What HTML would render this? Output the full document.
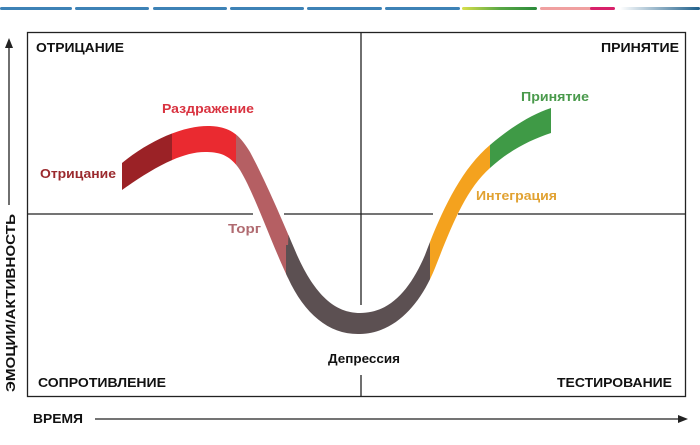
<!DOCTYPE html>
<html><head><meta charset="utf-8"><style>
html,body{margin:0;padding:0;background:#fff;}
svg{display:block;}
text{font-family:"Liberation Sans",sans-serif;font-weight:bold;}
</style></head><body>
<svg width="700" height="445" viewBox="0 0 700 445" xmlns="http://www.w3.org/2000/svg">
<defs>
<linearGradient id="g1" x1="0" x2="1"><stop offset="0" stop-color="#d8e04a"/><stop offset="0.5" stop-color="#5aa845"/><stop offset="1" stop-color="#2a8a3a"/></linearGradient>
<linearGradient id="g3" x1="0" x2="1"><stop offset="0" stop-color="#ffffff"/><stop offset="1" stop-color="#1e5f8a"/></linearGradient>
<path id="band" d="M122,163 C150,140 185,125 210,126 C232,127 240,136 250,152 C265,180 280,215 297,255 C315,295 335,313 360,313 C390,313 410,290 425,255 C440,215 460,170 490,145 C510,128 530,115 551,108 L551,133 C530,140 510,150 490,168 C465,190 450,230 435,268 C420,305 395,333 360,334 C330,335 305,315 288,278 C270,240 255,195 240,170 C230,155 220,152 205,152 C180,152 150,170 122,190 Z"/>
<clipPath id="c1"><rect x="100" y="0" width="72" height="445"/></clipPath>
<clipPath id="c2"><rect x="172" y="0" width="64" height="445"/></clipPath>
<clipPath id="c3"><polygon points="236,0 330,0 288,245 286,700 236,700"/></clipPath>
<clipPath id="c4"><polygon points="286,245 288,245 300,0 430,0 430,700 286,700"/></clipPath>
<clipPath id="c5"><rect x="430" y="0" width="60" height="445"/></clipPath>
<clipPath id="c6"><rect x="490" y="0" width="80" height="445"/></clipPath>
</defs>
<!-- top stripes -->
<g fill="#3d82b6">
<rect x="0" y="7" width="72" height="3" rx="1.5"/>
<rect x="75" y="7" width="74" height="3" rx="1.5"/>
<rect x="153" y="7" width="74" height="3" rx="1.5"/>
<rect x="230" y="7" width="74" height="3" rx="1.5"/>
<rect x="307" y="7" width="75" height="3" rx="1.5"/>
<rect x="385" y="7" width="75" height="3" rx="1.5"/>
</g>
<rect x="462" y="7" width="75" height="3" rx="1.5" fill="url(#g1)"/>
<rect x="540" y="7" width="52" height="3" rx="1.5" fill="#f0a0a0"/>
<rect x="590" y="7" width="25" height="3" rx="1.5" fill="#d8206a"/>
<rect x="620" y="7" width="80" height="3" rx="1.5" fill="url(#g3)"/>
<!-- box -->
<rect x="27.5" y="32.5" width="658" height="364" fill="none" stroke="#222" stroke-width="1.3"/>
<g stroke="#222" stroke-width="1.3">
<line x1="28" y1="214" x2="253" y2="214"/>
<line x1="284" y1="214" x2="433" y2="214"/>
<line x1="458" y1="214" x2="686" y2="214"/>
<line x1="361" y1="33" x2="361" y2="305"/>
<line x1="361" y1="375" x2="361" y2="397"/>
<line x1="9" y1="205" x2="9" y2="46"/>
<line x1="95" y1="419" x2="680" y2="419"/>
</g>
<polygon points="9,38 5,48 13,48" fill="#222"/>
<polygon points="688,419 678,415 678,423" fill="#222"/>
<!-- band -->
<use href="#band" fill="#9b2226" clip-path="url(#c1)"/>
<use href="#band" fill="#ea2a30" clip-path="url(#c2)"/>
<use href="#band" fill="#b55f63" clip-path="url(#c3)"/>
<use href="#band" fill="#5c5052" clip-path="url(#c4)"/>
<use href="#band" fill="#f4a21e" clip-path="url(#c5)"/>
<use href="#band" fill="#3f9a46" clip-path="url(#c6)"/>
<!-- labels -->
<g font-size="13" fill="#111">
<text x="36" y="52" textLength="88" lengthAdjust="spacingAndGlyphs">ОТРИЦАНИЕ</text>
<text x="679" y="52" text-anchor="end" textLength="78" lengthAdjust="spacingAndGlyphs">ПРИНЯТИЕ</text>
<text x="38" y="387" textLength="128" lengthAdjust="spacingAndGlyphs">СОПРОТИВЛЕНИЕ</text>
<text x="672" y="387" text-anchor="end" textLength="115" lengthAdjust="spacingAndGlyphs">ТЕСТИРОВАНИЕ</text>
<text x="33" y="423" textLength="50" lengthAdjust="spacingAndGlyphs">ВРЕМЯ</text>
<text x="328" y="363" textLength="72" lengthAdjust="spacingAndGlyphs">Депрессия</text>
<text transform="translate(15,392) rotate(-90)" textLength="178" lengthAdjust="spacingAndGlyphs">ЭМОЦИИ/АКТИВНОСТЬ</text>
</g>
<g font-size="13">
<text x="40" y="178" fill="#9b2a2e" textLength="76" lengthAdjust="spacingAndGlyphs">Отрицание</text>
<text x="162" y="113" fill="#d93340" textLength="92" lengthAdjust="spacingAndGlyphs">Раздражение</text>
<text x="228" y="233" fill="#b06a70" textLength="33" lengthAdjust="spacingAndGlyphs">Торг</text>
<text x="521" y="101" fill="#4a9a4c" textLength="68" lengthAdjust="spacingAndGlyphs">Принятие</text>
<text x="476" y="200" fill="#e1a232" textLength="81" lengthAdjust="spacingAndGlyphs">Интеграция</text>
</g>
</svg>
</body></html>
